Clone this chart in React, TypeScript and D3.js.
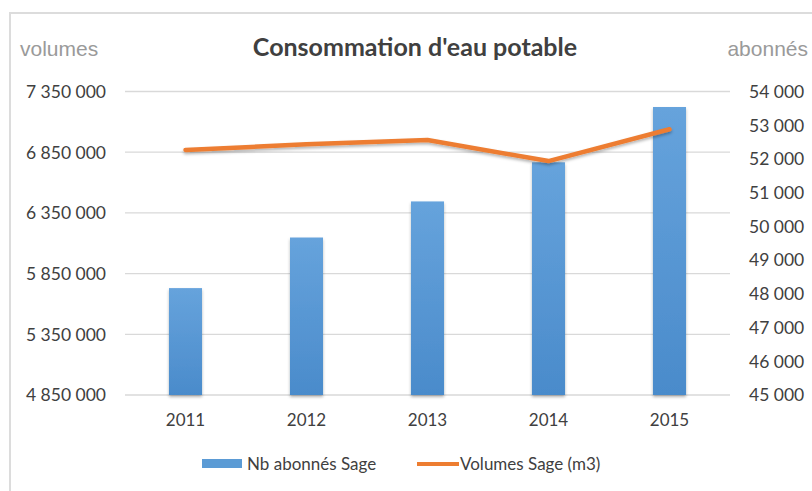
import React from "react";
import * as d3 from "d3";

const years = ["2011", "2012", "2013", "2014", "2015"];
const abonnes = [48170, 49670, 50740, 51900, 53540];
const volumes = [6868000, 6915000, 6950000, 6777000, 7039000];
const leftTicks = [4850000, 5350000, 5850000, 6350000, 6850000, 7350000];
const rightTicks = [45000, 46000, 47000, 48000, 49000, 50000, 51000, 52000, 53000, 54000];
const title = "Consommation d'eau potable";
const leftAxisTitle = "volumes";
const rightAxisTitle = "abonnés";
const barSeriesName = "Nb abonnés Sage";
const lineSeriesName = "Volumes Sage (m3)";

const W = 812;
const H = 491;
const plotLeft = 125;
const plotRight = 730;
const plotTop = 91.5;
const plotBottom = 395;
const FONT = "Lato, 'Open Sans', sans-serif";

export default function App() {
  const x = d3.scaleBand<string>().domain(years).range([plotLeft, plotRight]).paddingInner(0.727).paddingOuter(0.3635);
  const yL = d3.scaleLinear().domain([4850000, 7350000]).range([plotBottom, plotTop]);
  const yR = d3.scaleLinear().domain([45000, 54000]).range([plotBottom, plotTop]);
  const fmt = (v: number) => d3.format(",")(v).replace(/,/g, " ");
  const line = d3
    .line<number>()
    .x((_, i) => (x(years[i]) as number) + x.bandwidth() / 2)
    .y((d) => yL(d));

  return (
    <svg width={W} height={H} style={{ position: "absolute", left: 0, top: 0, background: "#fff" }}>
      <defs>
        <linearGradient id="barGrad" x1="0" y1="0" x2="0" y2="1">
          <stop offset="0%" stopColor="#66a3dc" />
          <stop offset="100%" stopColor="#4a8bcb" />
        </linearGradient>
        <filter id="shadow" x="-20%" y="-20%" width="140%" height="140%">
          <feDropShadow dx="0" dy="2" stdDeviation="1.5" floodColor="#000" floodOpacity="0.3" />
        </filter>
      </defs>
      <rect x={10} y={13} width={900} height={600} fill="none" stroke="#dcdcdc" strokeWidth={2} />

      <text x={415} y={56} textAnchor="middle" fontFamily={FONT} fontWeight="bold" fontSize={25} fill="#404040">
        {title}
      </text>
      <text x={20} y={56} fontFamily="'Liberation Sans', Arial, sans-serif" fontSize={21} fill="#9a9a9a">
        {leftAxisTitle}
      </text>
      <text x={808} y={56} textAnchor="end" fontFamily="'Liberation Sans', Arial, sans-serif" fontSize={21} fill="#9a9a9a">
        {rightAxisTitle}
      </text>

      {leftTicks.map((t) => (
        <g key={"l" + t}>
          <line x1={plotLeft} x2={plotRight} y1={yL(t)} y2={yL(t)} stroke="#d9d9d9" strokeWidth={1.3} />
          <text x={106} y={yL(t)} dy="0.36em" textAnchor="end" fontFamily={FONT} fontSize={17.5} fill="#404040">
            {fmt(t)}
          </text>
        </g>
      ))}
      {rightTicks.map((t) => (
        <text key={"r" + t} x={749} y={yR(t)} dy="0.36em" fontFamily={FONT} fontSize={17.5} fill="#404040">
          {fmt(t)}
        </text>
      ))}

      {years.map((yr, i) => (
        <rect
          key={yr}
          x={x(yr)}
          y={yR(abonnes[i])}
          width={x.bandwidth()}
          height={plotBottom - yR(abonnes[i])}
          fill="url(#barGrad)"
          filter="url(#shadow)"
        />
      ))}

      <path d={line(volumes) || ""} fill="none" stroke="#ED7D31" strokeWidth={4.5} strokeLinecap="round" strokeLinejoin="round" filter="url(#shadow)" />

      {years.map((yr) => (
        <text key={"x" + yr} x={(x(yr) as number) + x.bandwidth() / 2} y={420} dy="0.36em" textAnchor="middle" fontFamily={FONT} fontSize={17} fill="#404040">
          {yr}
        </text>
      ))}

      <rect x={202} y={459} width={40} height={9} fill="#5B9BD5" />
      <text x={247} y={464} dy="0.36em" fontFamily={FONT} fontSize={17} fill="#404040">
        {barSeriesName}
      </text>
      <line x1={417} x2={459} y1={464} y2={464} stroke="#ED7D31" strokeWidth={4} />
      <text x={460} y={464} dy="0.36em" fontFamily={FONT} fontSize={17} fill="#404040">
        {lineSeriesName}
      </text>
    </svg>
  );
}
